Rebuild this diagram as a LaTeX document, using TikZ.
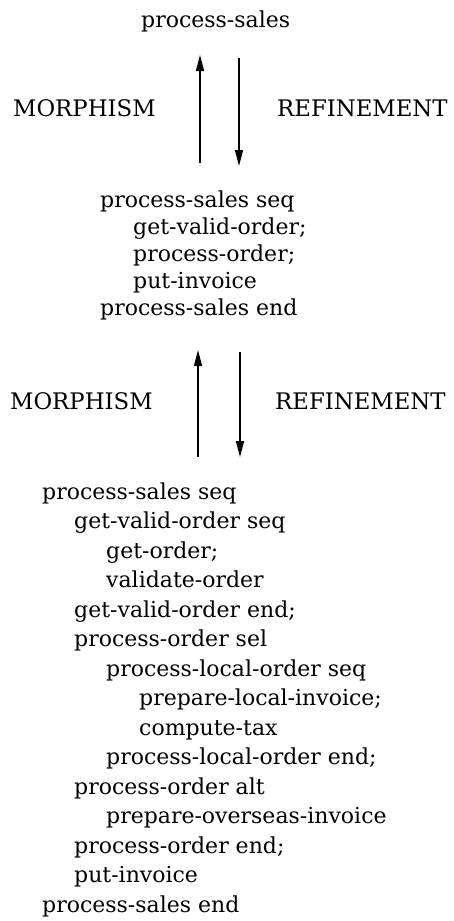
\documentclass[tikz,border=0pt]{standalone}
\usepackage{fontspec}
\setmainfont{DejaVu Serif}
\usetikzlibrary{arrows.meta}
\begin{document}
\begin{tikzpicture}[x=1pt,y=-1pt,
  txt/.style={inner sep=0pt, anchor=base west, font=\fontsize{22}{26}\selectfont},
  caps/.style={inner sep=0pt, anchor=west, font=\fontsize{22.8}{26}\selectfont},
  arr/.style={line width=1.5pt, -{Triangle[length=16pt,width=8pt]}}]
\useasboundingbox[fill=white] (0,0) rectangle (454,921);

% top
\node[txt] (top) at (141,27) {process-sales};

% first arrows
\coordinate (u1s) at (200,163);
\coordinate (u1e) at (200,55);
\coordinate (d1s) at (239,58);
\coordinate (d1e) at (239,166);
\draw[arr] (u1s) -- (u1e);
\draw[arr] (d1s) -- (d1e);
\node[caps] (m1) at (13,108) {MORPHISM};
\node[caps] (r1) at (277,108) {REFINEMENT};

% second listing
\foreach \yy/\xx/\tt [count=\i] in {
  207/100/process-sales seq,
  234/133/get-valid-order;,
  261/133/process-order;,
  288/133/put-invoice,
  315/100/process-sales end}
  \node[txt] (b\i) at (\xx,\yy) {\tt};

% second arrows
\coordinate (u2s) at (198,457);
\coordinate (u2e) at (198,350);
\coordinate (d2s) at (240,352);
\coordinate (d2e) at (240,457);
\draw[arr] (u2s) -- (u2e);
\draw[arr] (d2s) -- (d2e);
\node[caps] (m2) at (10,401) {MORPHISM};
\node[caps] (r2) at (275,401) {REFINEMENT};

% third listing
\foreach \yy/\xx/\tt [count=\i] in {
  499.0/42/process-sales seq,
  528.5/74/get-valid-order seq,
  558.0/106/get-order;,
  587.5/106/validate-order,
  617.0/74/get-valid-order end;,
  646.5/74/process-order sel,
  676.0/106/process-local-order seq,
  705.5/139/prepare-local-invoice;,
  735.0/139/compute-tax,
  764.5/106/process-local-order end;,
  794.0/74/process-order alt,
  823.5/106/prepare-overseas-invoice,
  853.0/74/process-order end;,
  882.5/74/put-invoice,
  912.0/42/process-sales end}
  \node[txt] (c\i) at (\xx,\yy) {\tt};
\end{tikzpicture}
\end{document}
